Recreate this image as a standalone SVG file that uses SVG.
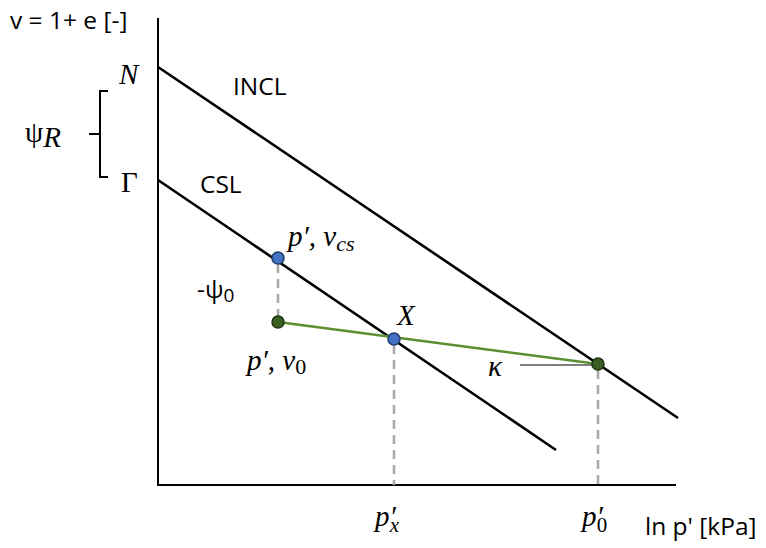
<svg xmlns="http://www.w3.org/2000/svg" width="766" height="548" viewBox="0 0 766 548">
<style>
.ax{stroke:#000;stroke-width:2;fill:none}
.ln{stroke:#000;stroke-width:2.6;fill:none}
.dash{stroke:#aaa;stroke-width:2.6;stroke-dasharray:9,6;fill:none}
.grn{stroke:#5a8f32;stroke-width:2.6;fill:none}
.t{font-family:"Open Sans","Liberation Sans",sans-serif;font-size:24.5px;fill:#000}
.m{font-family:"Liberation Serif","DejaVu Serif",serif;font-style:italic;font-size:29px;fill:#000}
.mu{font-family:"Liberation Serif","DejaVu Serif",serif;font-style:normal;font-size:29px;fill:#000}
.n{font-style:normal}
.blue{fill:#4472c4;stroke:#1f3b6e;stroke-width:1.5}
.gdot{fill:#3b5e23;stroke:#1e3311;stroke-width:1.5}
</style>
<rect width="766" height="548" fill="#fff"/>
<g id="axes">
<line class="ax" x1="158" y1="18" x2="158" y2="485"/>
<line class="ax" x1="157" y1="485" x2="676" y2="485"/>
</g>
<g id="connectors">
<line class="ln" x1="158" y1="67" x2="678" y2="418"/>
<line class="ln" x1="158" y1="180" x2="556" y2="450"/>
<line class="dash" x1="278" y1="264" x2="278" y2="318"/>
<line class="dash" x1="394" y1="345" x2="394" y2="485"/>
<line class="dash" x1="598" y1="370" x2="598" y2="485"/>
<line class="grn" x1="278" y1="322" x2="598" y2="364"/>
<line stroke="#000" stroke-width="1.2" x1="520" y1="365" x2="594" y2="365"/>
<path class="ax" d="M108,91 H100 V177 H108 M100,134 H89"/>
</g>
<g id="node-pcs"><circle class="blue" cx="278" cy="258" r="6"/></g>
<g id="node-p0v0"><circle class="gdot" cx="278" cy="322" r="6"/></g>
<g id="node-X"><circle class="blue" cx="394" cy="339" r="6"/></g>
<g id="node-p0"><circle class="gdot" cx="598" cy="364" r="6"/></g>
<g id="labels">
<text class="t" x="10" y="29">v = 1+ e [-]</text>
<text class="m" x="119" y="84">N</text>
<text class="mu" x="121" y="192">Γ</text>
<text class="mu" x="25" y="142">ψ<tspan class="m" font-size="22" dy="5">R</tspan></text>
<text class="t" x="233" y="95">INCL</text>
<text class="t" x="200" y="193">CSL</text>
<text class="m" x="288" y="246">p′, v<tspan font-size="22" dy="5">cs</tspan></text>
<text class="t" x="197" y="298">-ψ<tspan font-size="19" dy="4">0</tspan></text>
<text class="m" x="247" y="370">p′, v<tspan class="n" font-size="22" dy="4">0</tspan></text>
<text class="m" x="397" y="325">X</text>
<text class="m" x="488" y="376">κ</text>
<text class="m" x="375" y="526">p′<tspan font-size="21" dx="-6" dy="6">x</tspan></text>
<text class="m" x="582" y="526">p′<tspan class="n" font-size="21" dx="-6" dy="6">0</tspan></text>
<text class="t" x="645" y="535">ln p' [kPa]</text>
</g>
</svg>
